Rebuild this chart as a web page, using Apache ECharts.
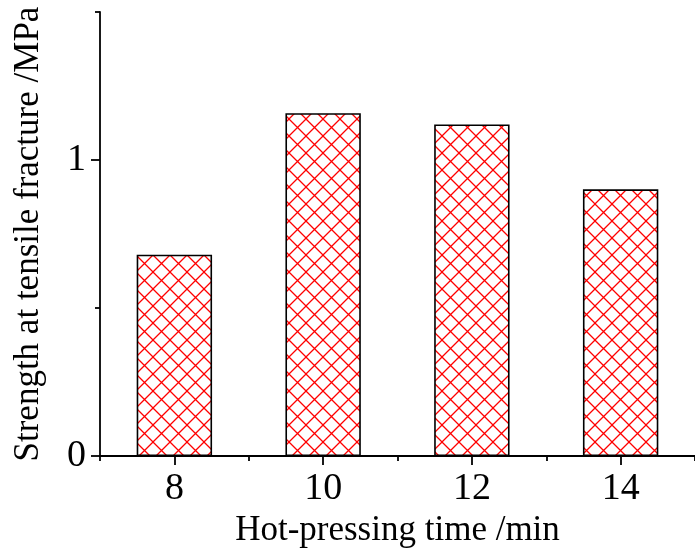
<!DOCTYPE html>
<html>
<head>
<meta charset="utf-8">
<script src="https://cdn.jsdelivr.net/npm/echarts@6/dist/echarts.min.js"></script>
<style>
html,body{margin:0;padding:0;background:#fff;}
#chart{width:695px;height:553px;}
</style>
</head>
<body>
<div id="chart"></div>
<script>
// Data
const times = [8, 10, 12, 14];
const strength = [0.68, 1.158, 1.12, 0.901];
const xMajorTicks = [8, 10, 12, 14];
const xMinorTicks = [7, 9, 11, 13, 15];
const yMajorTicks = [0, 1];
const yMinorTicks = [0.5, 1.5];
const xTitle = 'Hot-pressing time /min';
const yTitle = 'Strength at tensile fracture /MPa';

// Crosshatch pattern
const tile = document.createElement('canvas');
tile.width = 17; tile.height = 17;
const g = tile.getContext('2d');
g.fillStyle = '#fff';
g.fillRect(0, 0, 17, 17);
g.strokeStyle = '#ff0000';
g.lineWidth = 1.3;
g.beginPath();
g.moveTo(-2, -2); g.lineTo(19, 19);
g.moveTo(19, -2); g.lineTo(-2, 19);
g.stroke();

const font = 'Liberation Serif';
const axisLineStyle = { color: '#000', width: 1.8 };

const chart = echarts.init(document.getElementById('chart'), null, { renderer: 'canvas' });
chart.setOption({
  backgroundColor: '#fff',
  animation: false,
  grid: { left: 100, top: 12, right: -8, bottom: 91, containLabel: false },
  xAxis: [
    {
      type: 'value', min: 7, max: 15, interval: 1, position: 'bottom',
      axisLine: { show: true, onZero: false, lineStyle: axisLineStyle },
      axisTick: { show: true, length: 9, lineStyle: axisLineStyle, customValues: xMajorTicks },
      axisLabel: { show: true, customValues: xMajorTicks, margin: 14, color: '#000', fontFamily: font, fontSize: 38 },
      splitLine: { show: false },
      name: xTitle, nameLocation: 'middle', nameGap: 54,
      nameTextStyle: { color: '#000', fontFamily: font, fontSize: 35 }
    },
    {
      type: 'value', min: 7, max: 15, interval: 1, position: 'bottom',
      axisLine: { show: false, onZero: false },
      axisTick: { show: true, length: 5, lineStyle: axisLineStyle, customValues: xMinorTicks },
      axisLabel: { show: false },
      splitLine: { show: false }
    }
  ],
  yAxis: [
    {
      type: 'value', min: 0, max: 1.5, interval: 0.5, position: 'left',
      axisLine: { show: true, onZero: false, lineStyle: axisLineStyle },
      axisTick: { show: true, length: 9, lineStyle: axisLineStyle, customValues: yMajorTicks },
      axisLabel: { show: true, customValues: yMajorTicks, margin: 14, color: '#000', fontFamily: font, fontSize: 38 },
      splitLine: { show: false },
      name: yTitle, nameLocation: 'middle', nameGap: 54, nameRotate: 90,
      nameTextStyle: { color: '#000', fontFamily: font, fontSize: 35 }
    },
    {
      type: 'value', min: 0, max: 1.5, interval: 0.5, position: 'left',
      axisLine: { show: false, onZero: false },
      axisTick: { show: true, length: 5, lineStyle: axisLineStyle, customValues: yMinorTicks },
      axisLabel: { show: false },
      splitLine: { show: false }
    }
  ],
  series: [
    {
      type: 'bar',
      xAxisIndex: 0, yAxisIndex: 0,
      barWidth: 75.4,
      data: times.map((t, i) => [t, strength[i]]),
      itemStyle: {
        color: { image: tile, repeat: 'repeat' },
        borderColor: '#000',
        borderWidth: 1.6
      }
    }
  ]
});
</script>
</body>
</html>
